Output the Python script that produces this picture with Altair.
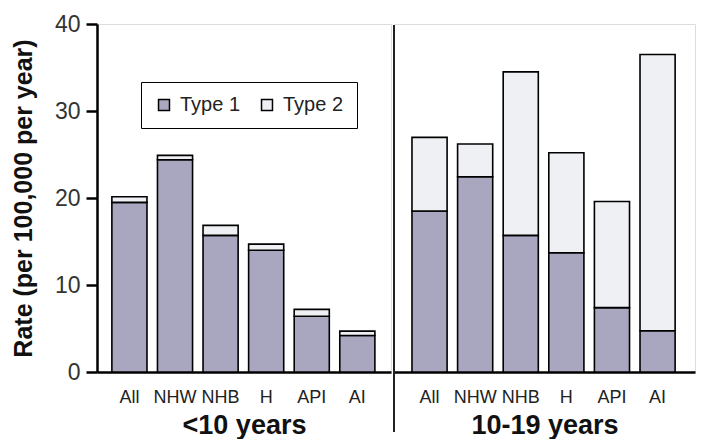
import altair as alt
import pandas as pd

groups = ["All", "NHW", "NHB", "H", "API", "AI"]
type1_lt10 = [19.5, 24.4, 15.7, 14.0, 6.4, 4.2]
total_lt10 = [20.15, 24.9, 16.85, 14.7, 7.2, 4.7]
type1_10_19 = [18.5, 22.45, 15.7, 13.7, 7.4, 4.75]
total_10_19 = [26.97, 26.2, 34.5, 25.2, 19.6, 36.5]
types = ["Type 1", "Type 2"]
colors = ["#a9a7bf", "#eef0f4"]

def frame(t1, tot):
    rows = []
    for g, a, b in zip(groups, t1, tot):
        rows.append({"grp": g, "type": "Type 1", "lo": 0.0, "hi": a})
        rows.append({"grp": g, "type": "Type 2", "lo": a, "hi": b})
    return pd.DataFrame(rows)

df1 = frame(type1_lt10, total_lt10)
df2 = frame(type1_10_19, total_10_19)

FONT = "Liberation Sans"
H = 348

color = alt.Color("type:N", scale=alt.Scale(domain=types, range=colors),
                  legend=alt.Legend(title=None, orient="none", direction="horizontal",
                                    legendX=44, legendY=58, strokeColor="black",
                                    padding=13, symbolType="square", symbolSize=120,
                                    symbolStrokeColor="black", symbolStrokeWidth=1.5,
                                    labelFont=FONT, labelFontSize=20, labelColor="#222",
                                    columnPadding=16, labelOffset=6))

def panel(df, title, width, show_y, pad_outer, align):
    x = alt.X("grp:N", sort=groups, title=title,
              scale=alt.Scale(paddingInner=0.23, paddingOuter=pad_outer, align=align),
              axis=alt.Axis(labelAngle=0, ticks=False, domainColor="black", domainWidth=2.5,
                            labelFont=FONT, labelFontSize=18, labelColor="#222", labelPadding=16,
                            titleFont=FONT, titleFontSize=27, titleFontWeight="bold",
                            titleColor="#111", titlePadding=6))
    if show_y:
        y = alt.Y("lo:Q", scale=alt.Scale(domain=[0, 40]),
                  title="Rate (per 100,000 per year)",
                  axis=alt.Axis(values=[0, 10, 20, 30, 40], grid=False, domainColor="black",
                                domainWidth=2.5, tickColor="black", tickWidth=2.5, tickSize=11,
                                labelFont=FONT, labelFontSize=23, labelColor="#333",
                                labelPadding=6, titleFont=FONT, titleFontSize=25,
                                titleFontWeight="bold", titleColor="#111", titlePadding=18))
    else:
        y = alt.Y("lo:Q", scale=alt.Scale(domain=[0, 40]), axis=None)
    bars = alt.Chart(df).mark_bar(stroke="black", strokeWidth=1.6).encode(
        x=x, y=y, y2="hi:Q", color=color)
    layers = [bars]
    if not show_y:
        rule = alt.Chart(df).mark_rule(color="#222", strokeWidth=1.3).encode(
            x=alt.value(0), y=alt.value(1), y2=alt.value(H + 60))
        layers.append(rule)
    return alt.layer(*layers).properties(width=width, height=H)

left = panel(df1, "<10 years", 294, True, 0.34, 0.48)
right = panel(df2, "10-19 years", 301, False, 0.415, 0.475)

chart = alt.hconcat(left, right, spacing=0).configure_view(stroke=None).configure(
    padding={"left": 2, "right": 0, "top": 4, "bottom": 0})

chart.save("out.html", embed_options={"renderer": "svg", "actions": False})
